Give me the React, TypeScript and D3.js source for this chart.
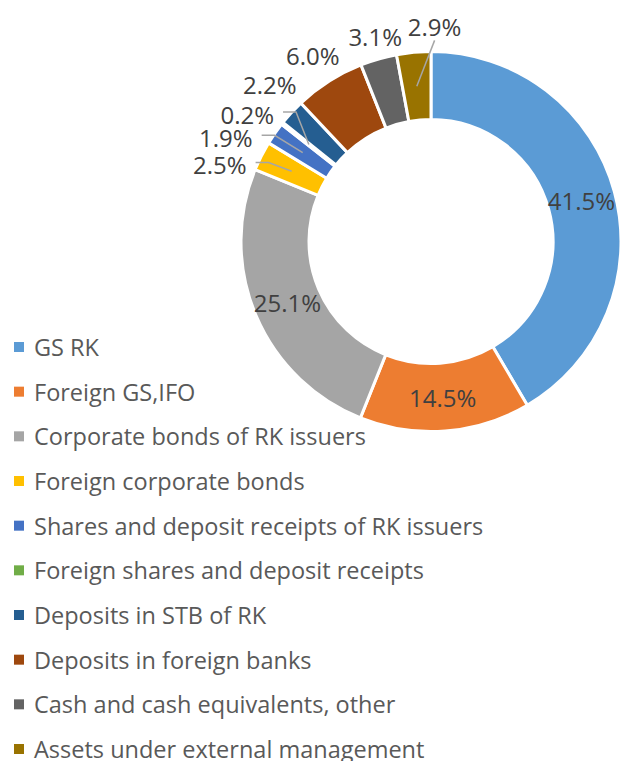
import * as d3 from "d3";
import React, {useEffect, useRef} from "react";

// portfolio structure, % of total
const categories = [
    "GS RK",
    "Foreign GS,IFO",
    "Corporate bonds of RK issuers",
    "Foreign corporate bonds",
    "Shares and deposit receipts of RK issuers",
    "Foreign shares and deposit receipts",
    "Deposits in STB of RK",
    "Deposits in foreign banks",
    "Cash and cash equivalents, other",
    "Assets under external management",
];
const shares = [41.5, 14.5, 25.1, 2.5, 1.9, 0.2, 2.2, 6.0, 3.1, 2.9];
const colors = ["#5B9BD5", "#ED7D31", "#A5A5A5", "#FFC000", "#4472C4", "#70AD47", "#255E91", "#9E480E", "#636363", "#997300"];

const width = 621, height = 761;
const cx = 431, cy = 241.5;
const outerR = 190, innerR = 122;
const font = "'Open Sans', sans-serif";

// small slices: label placed outside the ring, nudged like the original
const outside = {
    3: {dx: -21, dy: 19, leader: "side"},
    4: {dx: -30, dy: 17, leader: "side"},
    5: {dx: -17, dy: 5, leader: "side"},
    6: {dx: -5, dy: -12},
    7: {dx: -4, dy: -6},
    8: {dx: 3, dy: 0},
    9: {dx: 23, dy: -3, leader: "below"},
};

const App = () => {
    const ref = useRef(null);

    useEffect(() => {
        const svg = d3.select(ref.current);
        svg.selectAll("*").remove();

        const pie = d3.pie().sort(null).value(d => d);
        const arcs = pie(shares);
        const arc = d3.arc().innerRadius(innerR).outerRadius(outerR);

        const g = svg.append("g").attr("transform", `translate(${cx},${cy})`);

        g.selectAll("path.slice")
            .data(arcs)
            .join("path")
            .attr("class", "slice")
            .attr("d", arc)
            .attr("fill", (d, i) => colors[i])
            .attr("stroke", "white")
            .attr("stroke-width", 3);

        const polar = (a, r) => [Math.sin(a) * r, -Math.cos(a) * r];

        arcs.forEach((d, i) => {
            const text = shares[i].toFixed(1) + "%";
            const o = outside[i];
            let x, y;
            if (!o) {
                [x, y] = arc.centroid(d);
            } else {
                const mid = (d.startAngle + d.endAngle) / 2;
                const [bx, by] = polar(mid, outerR + 23);
                x = bx + o.dx;
                y = by + o.dy;
            }
            const t = g.append("text")
                .attr("x", x)
                .attr("y", y)
                .attr("text-anchor", "middle")
                .attr("dominant-baseline", "central")
                .attr("font-family", font)
                .attr("font-size", 24)
                .attr("fill", "#404040")
                .text(text);

            if (o && o.leader) {
                const w = t.node().getComputedTextLength();
                const [ex, ey] = arc.centroid(d);
                let pts;
                if (o.leader === "side") {
                    const sx = x + w / 2 + 9;
                    const ly = y - 2;
                    pts = [[sx, ly], [sx + 13, ly], [ex, ey]];
                } else {
                    pts = [[x, y + 14], [ex, ey]];
                }
                g.append("path")
                    .attr("d", d3.line()(pts))
                    .attr("fill", "none")
                    .attr("stroke", "#A6A6A6")
                    .attr("stroke-width", 1.5);
            }
        });

        // legend
        const legend = svg.append("g");
        const row = d3.scalePoint().domain(categories).range([347, 749]);
        const item = legend.selectAll("g")
            .data(categories)
            .join("g")
            .attr("transform", d => `translate(0,${row(d)})`);
        item.append("rect")
            .attr("x", 14)
            .attr("y", -5)
            .attr("width", 10)
            .attr("height", 10)
            .attr("fill", (d, i) => colors[i]);
        item.append("text")
            .attr("x", 34)
            .attr("dominant-baseline", "central")
            .attr("font-family", font)
            .attr("font-size", 23.5)
            .attr("fill", "#595959")
            .text(d => d);
    }, []);

    return (
        <div style={{position: "absolute", left: 0, top: 0}}>
            <svg ref={ref} width={width} height={height}></svg>
        </div>
    );
};

export default App;
